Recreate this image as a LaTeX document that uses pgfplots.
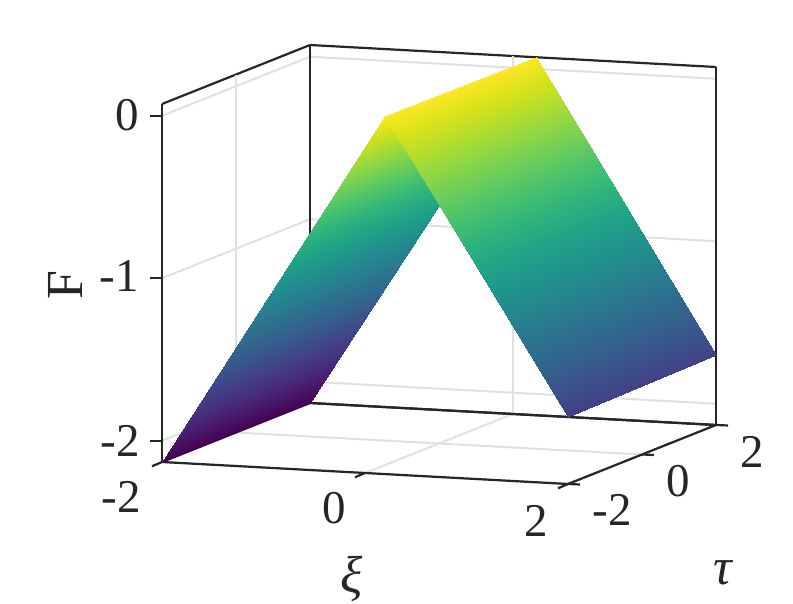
\documentclass[border=0pt]{standalone}
\usepackage{fontspec}
\setmainfont{Liberation Serif}
\usepackage{pgfplots}
\pgfplotsset{compat=1.18}
\definecolor{axcol}{HTML}{262626}
\definecolor{gridcol}{HTML}{E0E0E0}
% tick label with an offset from its tick (the hspace counts half, the label is centred)
\newcommand{\tl}[3]{\raisebox{#2pt}[0pt][0pt]{\hspace*{#1pt}\makebox[0pt]{#3}}}
\newcommand{\labfont}{\fontsize{52}{54}\selectfont}
\begin{document}
\begin{tikzpicture}
\begin{axis}[
    x={(101.5pt,-5.5pt)},
    y={(37pt,14.75pt)},
    z={(0pt,162.5pt)},
    xmin=-2, xmax=2,
    ymin=-2, ymax=2,
    zmin=-2.131, zmax=0.072,
    xtick={-2,0,2},
    ytick={-2,0,2},
    ztick={-2,-1,0},
    xticklabels={\tl{-82}{-51}{-2},\tl{-62.5}{-50.5}{0},\tl{-64}{-53}{2}},
    yticklabels={\tl{88}{-42}{-2},\tl{73}{-42}{0},\tl{72}{-43}{2}},
    zticklabels={\tl{-84}{-16}{-2},\tl{-85}{-13}{-1},\tl{-70}{-15}{0}},
    xticklabel style={anchor=center,inner sep=0pt},
    yticklabel style={anchor=center,inner sep=0pt},
    zticklabel style={anchor=center,inner sep=0pt},
    font=\fontsize{47}{50}\selectfont,
    major tick length=0pt,
    axis line style={axcol,line width=2.2pt},
    grid=major,
    major grid style={gridcol,line width=2pt},
    every tick label/.append style={text=axcol},
    colormap name=viridis,
    clip=false,
    xlabel={\labfont\itshape ξ},
    ylabel={\labfont\itshape τ},
    zlabel={\labfont F},
    xlabel style={at={(axis cs:-2,-2,-2.131)},anchor=center,xshift=190pt,yshift=-117pt,text=axcol},
    ylabel style={at={(axis cs:-2,-2,-2.131)},anchor=center,xshift=561pt,yshift=-111pt,text=axcol},
    zlabel style={at={(axis cs:-2,-2,-2.131)},anchor=center,xshift=177pt,yshift=97pt,text=axcol},
]
% back edges sit over the grid but under the surface
\draw[axcol,line width=2.2pt] (axis cs:-2,2,-2.131) -- (axis cs:-2,2,0.072);
\draw[axcol,line width=2.2pt] (axis cs:2,2,-2.131) -- (axis cs:2,2,0.072);
\draw[axcol,line width=2.2pt] (axis cs:-2,2,-2.131) -- (axis cs:2,2,-2.131);
\addplot3[surf,shader=interp,mesh/ordering=x varies,mesh/cols=3] table {
x y z
-2 -2 -2.131
0.2 -2 0.072
2 -2 -1.72
-2 2 -2.131
0.23 2 0.072
2 2 -1.70
};
% ticks point the way they do in the reference, not the pgfplots way
\pgfplotsinvokeforeach{-2,0,2}{
    \draw[axcol,line width=2.2pt] (axis cs:#1,-2,-2.131) -- ++(-10pt,-4.3pt);
    \draw[axcol,line width=2.2pt] (axis cs:2,#1,-2.131) -- ++(12pt,-0.5pt);
}
\pgfplotsinvokeforeach{-2,-1,0}{
    \draw[axcol,line width=2.2pt] (axis cs:-2,-2,#1) -- ++(-12pt,0pt);
}
\coordinate (bl) at (axis cs:-2,-2,-2.131);
\end{axis}
\pgfresetboundingbox
\path[use as bounding box] ([shift={(-162pt,-142pt)}]bl) rectangle ([shift={(631pt,462pt)}]bl);
\end{tikzpicture}
\end{document}
